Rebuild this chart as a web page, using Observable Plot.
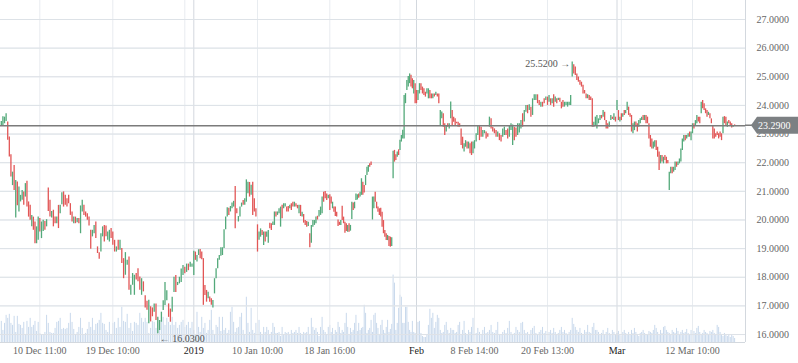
<!DOCTYPE html>
<html><head><meta charset="utf-8">
<script src="https://cdn.jsdelivr.net/npm/d3@7"></script>
<script src="https://cdn.jsdelivr.net/npm/@observablehq/plot@0.6"></script>
<style>
html,body{margin:0;padding:0;background:#fff;}
#wrap{position:relative;width:798px;height:363px;overflow:hidden;}
#wrap svg{position:absolute;left:0;top:0;}
</style></head><body><div id="wrap"></div>
<script>
// ---- hourly bars: open / close (price), volume ----
const open = [
23.28,23.30,23.36,23.44,23.42,22.90,22.28,21.20,21.90,20.07,
21.33,20.28,20.63,20.69,20.98,20.80,21.35,20.63,20.51,19.76,
20.10,19.93,19.17,19.29,20.05,19.35,19.60,19.95,19.76,21.12,
20.69,20.07,20.34,20.10,19.87,20.51,20.22,20.53,20.98,20.86,
20.74,20.86,20.57,20.28,19.87,20.10,19.90,20.05,19.52,20.28,
20.51,20.28,20.22,20.10,19.64,19.41,19.52,19.93,19.06,18.86,
18.88,19.41,19.81,19.79,19.29,19.23,19.70,19.58,19.29,18.88,
19.29,18.94,19.00,18.65,18.07,18.42,18.71,17.37,17.72,17.37,
18.13,18.30,18.01,17.37,17.84,17.35,17.16,16.38,16.97,16.93,
16.78,17.07,16.03,16.14,16.43,16.84,17.01,17.18,17.07,16.89,16.78,17.47,18.06,17.71,17.77,17.82,18.06,18.35,18.17,18.46,18.35,18.35,
18.06,18.88,18.53,18.76,18.97,18.88,18.65,17.71,17.54,17.25,
17.31,17.25,16.93,17.42,17.95,18.30,18.59,18.73,18.76,19.00,
19.66,20.10,20.41,20.28,20.39,20.45,21.17,20.39,19.93,20.10,
20.45,20.68,20.51,20.62,20.92,21.31,20.86,21.32,20.74,20.39,
19.83,19.29,19.40,19.63,19.11,19.58,19.40,19.19,19.89,19.87,
19.81,19.81,20.28,20.16,20.22,19.75,20.51,20.39,20.45,20.45,
20.47,20.39,20.57,20.62,20.45,20.57,20.51,20.22,
20.51,20.10,20.19,19.98,19.95,19.77,19.52,19.19,19.75,19.81,
19.87,20.13,20.10,20.16,20.22,20.97,20.99,20.91,20.74,20.88,
20.80,20.39,20.45,20.45,20.27,20.00,19.92,19.81,20.48,20.10,
19.92,19.87,19.57,19.87,19.61,20.02,20.59,20.39,20.68,20.70,
20.91,20.80,20.86,21.32,21.20,21.20,21.55,21.67,21.96,22.02,
20.00,20.39,20.97,20.62,20.45,20.39,20.41,20.27,19.98,19.63,
19.52,19.28,19.42,19.40,19.07,21.44,22.43,22.28,22.19,22.45,
22.43,22.72,22.83,22.83,24.06,24.52,24.64,24.76,25.05,24.93,
24.40,24.76,24.52,24.17,24.40,24.76,24.64,24.58,24.46,24.40,
24.23,24.52,24.40,24.23,24.40,24.35,24.40,24.40,23.30,23.53,
23.71,23.36,23.07,23.36,23.18,23.53,23.82,
23.59,23.53,23.41,23.41,23.36,23.18,22.89,22.37,22.54,22.72,
22.48,22.66,22.72,22.31,22.48,22.72,22.95,23.30,23.24,22.89,
23.01,23.07,23.01,23.24,23.53,23.24,23.18,23.12,22.89,23.01,
22.95,22.89,22.95,23.12,23.18,22.89,23.12,22.60,23.24,23.21,
22.95,23.04,23.18,23.71,23.42,23.76,24.00,23.82,23.94,23.65,
24.17,24.17,24.37,24.17,23.94,24.11,24.23,24.17,24.29,24.11,
24.23,24.06,24.37,24.11,24.23,24.17,24.25,24.11,24.17,23.94,
24.00,23.94,24.00,24.00,24.99,25.42,25.34,25.10,24.99,24.87,
24.81,24.70,24.52,24.40,24.23,24.35,24.29,24.23,23.24,23.30,
23.18,23.36,23.47,23.65,23.59,23.76,23.47,23.36,23.24,23.47,
23.59,23.47,23.59,23.82,23.82,23.42,23.71,23.59,23.82,23.71,
23.82,23.94,23.71,23.65,23.01,23.12,23.42,23.36,23.24,23.36,
23.47,23.65,23.47,23.65,23.59,23.36,22.95,22.83,22.48,22.54,
22.77,22.54,22.37,21.96,22.25,21.96,22.25,22.19,22.08,21.03,
21.61,21.84,21.67,21.73,22.02,21.90,21.96,22.02,22.43,22.72,
22.95,22.83,22.89,23.07,22.77,23.01,23.36,23.30,23.36,23.59,
23.59,23.71,24.17,24.06,23.88,23.82,23.65,23.71,23.53,23.30,
23.18,23.01,23.07,23.01,23.07,23.01,23.01,23.61,23.59,23.24,
23.47,23.42,23.36,23.24,23.32
];
const close = [
23.44,23.60,23.59,23.71,22.78,22.20,21.50,21.67,21.03,21.38,
20.50,21.15,20.86,21.03,20.51,21.27,20.45,20.10,19.99,20.16,
19.64,19.17,19.76,20.10,19.58,19.93,19.99,19.64,20.01,20.30,
20.10,20.30,19.76,19.87,20.10,19.70,20.51,20.95,20.45,20.51,
20.45,20.57,20.16,19.93,20.10,19.87,20.05,19.87,20.49,20.69,
20.16,20.10,19.99,19.79,18.98,19.64,19.81,19.35,18.83,18.63,
19.52,19.76,19.23,19.41,19.58,19.64,19.35,19.12,18.88,19.06,
18.94,19.29,18.48,17.95,18.86,18.59,17.55,17.72,18.13,18.07,
17.90,17.84,17.55,17.95,17.49,16.93,16.85,17.20,16.44,16.62,
17.07,16.49,16.60,16.49,16.78,17.18,17.82,17.53,16.60,16.43,17.30,18.00,17.47,17.82,18.00,18.29,18.41,18.12,18.46,18.23,18.52,18.46,
18.91,18.59,18.76,18.96,18.65,18.61,17.02,17.36,17.13,17.48,
17.13,17.02,17.19,17.95,18.30,18.65,18.76,19.03,19.03,19.66,
20.10,20.43,20.16,20.47,20.59,20.65,19.69,20.22,20.12,20.45,
20.59,20.51,20.74,21.40,21.32,20.80,21.21,20.16,20.28,20.10,
18.88,19.58,19.69,19.46,19.58,19.23,19.58,19.63,19.69,19.63,
19.93,20.28,20.10,20.28,20.39,20.45,20.04,20.57,20.57,20.28,
20.28,20.51,20.33,20.45,20.62,20.45,20.39,20.51,
20.12,20.27,19.89,19.81,19.75,19.92,19.03,19.81,19.98,19.98,
20.10,20.00,20.33,20.45,20.80,20.62,20.74,20.68,20.86,20.33,
20.56,20.62,20.27,20.12,20.10,19.77,19.81,19.98,19.98,19.87,
19.54,19.60,19.81,19.57,19.81,20.62,20.33,20.62,20.91,20.88,
20.76,20.97,21.44,20.86,20.94,21.55,21.84,21.90,21.84,21.90,
20.80,20.80,20.62,20.39,20.27,20.16,20.10,19.75,19.52,19.40,
19.28,19.46,19.07,19.05,19.38,22.40,22.02,22.08,22.37,22.25,
22.78,22.95,23.13,24.35,24.41,24.87,25.01,25.10,24.64,24.58,
24.87,24.06,24.06,24.52,24.76,24.52,24.40,24.35,24.29,24.58,
24.58,24.23,24.23,24.40,24.29,24.46,24.29,24.06,23.82,23.77,
23.24,22.95,23.30,23.24,23.36,24.12,23.30,
23.41,23.30,23.36,23.24,23.24,22.60,22.48,22.66,22.77,22.48,
22.72,22.31,22.25,22.72,22.77,23.01,23.30,22.77,22.89,23.12,
23.12,22.83,22.89,23.59,23.18,23.07,23.01,22.89,23.07,22.77,
22.72,23.18,23.24,22.95,22.83,23.30,23.36,23.32,22.77,22.89,
23.36,23.36,23.47,23.24,23.82,24.00,23.71,24.02,23.59,24.23,
24.37,24.37,24.06,24.00,24.11,23.94,24.06,24.29,24.00,24.35,
24.00,24.23,23.94,24.29,24.06,24.25,24.11,23.88,23.94,24.11,
24.11,24.11,24.11,24.35,25.52,25.10,25.04,24.87,24.81,24.70,
24.64,24.40,24.40,24.23,24.37,24.17,24.17,23.24,23.41,23.59,
23.65,23.53,23.65,23.53,23.82,23.47,23.18,23.18,23.42,23.65,
23.51,23.71,23.42,24.17,23.47,23.59,23.47,23.71,23.65,23.82,
24.11,23.65,23.59,23.07,23.36,23.42,23.24,23.07,23.47,23.53,
23.59,23.47,23.65,23.36,23.36,22.83,22.54,22.48,22.72,22.77,
22.43,22.19,21.73,22.25,22.02,22.19,22.08,21.96,21.96,21.67,
21.84,21.61,21.84,22.02,21.84,22.02,22.13,22.48,22.83,22.95,
22.77,22.95,23.01,22.89,23.07,23.36,23.18,23.47,23.65,23.42,
23.36,24.11,23.88,23.82,23.71,23.59,23.76,23.53,23.36,22.83,
22.83,22.89,22.95,22.83,22.89,22.77,23.59,23.36,23.30,23.42,
23.36,23.30,23.21,23.30,23.29
];
const volume = [
21,12,19,27,24,28,19,17,26,10,26,18,17,14,20,8,21,15,24,15,
17,21,11,20,9,7,7,10,27,19,10,9,9,14,20,21,24,13,14,13,
14,19,29,20,13,8,10,15,24,14,8,9,13,20,15,24,12,18,19,22,
29,19,18,12,10,20,8,19,20,14,24,15,35,21,20,28,14,19,11,20,
19,17,29,24,20,24,20,9,14,21,
20,14,24,15,22,25,17,24,20,17,25,17,20,14,17,20,22,15,17,20,14,20,
12,8,30,15,10,25,14,19,9,12,22,32,12,8,17,15,25,11,25,12,
14,9,12,30,35,20,10,14,15,25,29,12,8,45,19,10,34,12,9,19,
15,22,10,8,15,10,15,12,7,10,19,15,9,9,10,6,15,7,10,9,
10,8,12,9,10,12,9,15,
9,7,10,9,10,15,8,24,15,12,14,10,6,15,25,12,10,8,15,17,
10,14,7,12,10,20,15,9,12,10,19,29,15,8,14,10,12,19,27,11,
19,12,14,15,37,29,9,12,14,22,10,27,29,19,14,8,17,22,12,9,
15,22,10,13,18,67,59,12,19,34,47,45,19,19,35,35,20,12,
10,21,10,9,12,20,21,9,6,5,5,8,17,33,24,29,14,20,27,24,12,9,10,17,20,12,9,14,12,
12,9,10,17,20,8,12,21,9,7,12,10,15,24,12,9,14,10,8,12,
15,9,10,12,17,10,9,12,20,8,7,10,12,9,14,21,10,8,9,15,
12,10,19,20,12,9,10,7,12,14,16,9,8,10,12,15,9,11,7,10,
12,9,14,10,8,9,12,15,10,12,9,8,10,12,24,18,15,12,10,14,
9,8,12,10,17,10,9,15,19,12,
12,10,8,9,12,7,10,14,9,8,12,10,7,9,11,8,6,10,12,9,
8,10,7,12,9,14,10,8,6,9,10,12,9,7,8,11,10,9,12,17,
14,10,8,12,9,15,16,12,10,9,8,12,10,9,14,11,8,10,12,9,
10,13,9,8,12,10,11,9,14,16,10,8,9,12,10,9,8,11,10,12,
9,8,17,15,10,8,6,9,7,6,8,5,7,6,4
];
// ---- time axis: bar index of each labelled hour ----
const tickIndex = [24, 67, 112, 152, 199, 262, 301, 345, 390, 442];
const tickText = ["10 Dec 11:00","19 Dec 10:00","2019","10 Jan 10:00","18 Jan 16:00","Feb","8 Feb 14:00","20 Feb 13:00","Mar","12 Mar 10:00"];
const monthLabels = ["2019","Feb","Mar"];
const extraGrid = [107, 250, 393];
const yTicks = [16,17,18,19,20,21,22,23,24,25,26,27];
const lastPrice = 23.29;

// ---- build ----
const W = 798, H = 363, MR = 53, MB = 21, PW = W - MR;
const N = open.length;
const bars = d3.range(N).map(i => ({i, o: open[i], c: close[i], v: volume[i]}));
const ticks = tickIndex.map((i, k) => ({i, label: tickText[k], month: monthLabels.includes(tickText[k])}));
// ordinal-time x scale: bars between labelled hours are spread evenly (trading-hour axis)
const xDom = [-0.5].concat(tickIndex, [N + 6.5]);
const xRange = [0, 39.3, 112.3, 193.3, 257, 329.3, 416, 474, 547, 616.5, 692, PW];
const yDom = [15.722, 27.663];
const UP = "#53a97a", DOWN = "#e25656";
const FONT = "'Liberation Serif', 'Times New Roman', serif";
const xScale = {type: "linear", domain: xDom, range: xRange, axis: null};

const volPlot = Plot.plot({
  width: W, height: H, marginTop: 0, marginRight: MR, marginBottom: MB, marginLeft: 0,
  x: xScale, y: {domain: [0, 340], axis: null},
  marks: [Plot.ruleX(bars, {x: "i", y1: 0, y2: "v", stroke: "#c9d9ec", strokeWidth: 1})]
});

let hi = bars[0], lo = bars[0];
for (const b of bars) {
  if (Math.max(b.o, b.c) > Math.max(hi.o, hi.c)) hi = b;
  if (Math.min(b.o, b.c) < Math.min(lo.o, lo.c)) lo = b;
}
const hiVal = Math.max(hi.o, hi.c), loVal = Math.min(lo.o, lo.c);

const pricePlot = Plot.plot({
  width: W, height: H, marginTop: 0, marginRight: MR, marginBottom: MB, marginLeft: 0,
  style: {background: "transparent", fontFamily: FONT, fontSize: "10px"},
  x: xScale,
  y: {domain: yDom, axis: null},
  marks: [
    Plot.ruleY(yTicks, {stroke: "#e8ecf0"}),
    Plot.ruleX(ticks.filter(d => !d.month).map(d => d.i).concat(extraGrid), {stroke: "#e8ecf0"}),
    Plot.ruleX(ticks.filter(d => d.month).map(d => d.i), {stroke: "#d3d8de"}),
    Plot.ruleX([xDom[xDom.length - 1]], {stroke: "#d3d8de"}),
    Plot.ruleY([yDom[0]], {stroke: "#d3d8de"}),
    Plot.tickY(yTicks, {y: d => d, frameAnchor: "right", stroke: "#dde2e7"}),
    Plot.ruleX(bars, {x: "i", y1: "o", y2: "c", stroke: d => d.c >= d.o ? UP : DOWN, strokeWidth: 1.3}),
    Plot.ruleY([lastPrice], {stroke: "#7b7b7b", strokeWidth: 1.5}),
    Plot.text(yTicks, {y: d => d, text: d => d.toFixed(4), frameAnchor: "right", textAnchor: "start",
      dx: 11, fill: "#666", fontSize: 10}),
    Plot.text(ticks, {x: "i", text: "label", frameAnchor: "bottom", dy: 11,
      fill: d => d.month ? "#222" : "#666", fontSize: 10}),
    Plot.text([lo], {x: "i", y: () => loVal, text: () => "\u2190 " + loVal.toFixed(4),
      textAnchor: "start", dx: 2, dy: 5, fill: "#555", fontSize: 10}),
    Plot.text([hi], {x: "i", y: () => hiVal, text: () => hiVal.toFixed(4) + " \u2192",
      textAnchor: "end", dx: -2, dy: 2, fill: "#555", fontSize: 10})
  ]
});

const wrap = document.getElementById("wrap");
wrap.appendChild(volPlot);
wrap.appendChild(pricePlot);

// last-price badge, on its own top layer, placed with the price plot's y scale
const y0 = pricePlot.scale("y").apply(lastPrice);
const badge = d3.create("svg").attr("width", W).attr("height", H)
  .attr("viewBox", `0 0 ${W} ${H}`).style("background", "transparent");
badge.append("line").attr("x1", PW).attr("x2", PW + 8).attr("y1", y0).attr("y2", y0)
  .attr("stroke", "#7b7b7b").attr("stroke-width", 1.5);
badge.append("path")
  .attr("d", `M${PW + 6},${y0} L${PW + 12},${y0 - 8.5} H${W} V${y0 + 8.5} H${PW + 12} Z`)
  .attr("fill", "#7c8083");
badge.append("text").attr("x", PW + 13).attr("y", y0 + 3.5)
  .attr("fill", "#ffffff").attr("font-size", 10).attr("font-family", FONT)
  .text(lastPrice.toFixed(4));
wrap.appendChild(badge.node());
</script>
</body></html>
